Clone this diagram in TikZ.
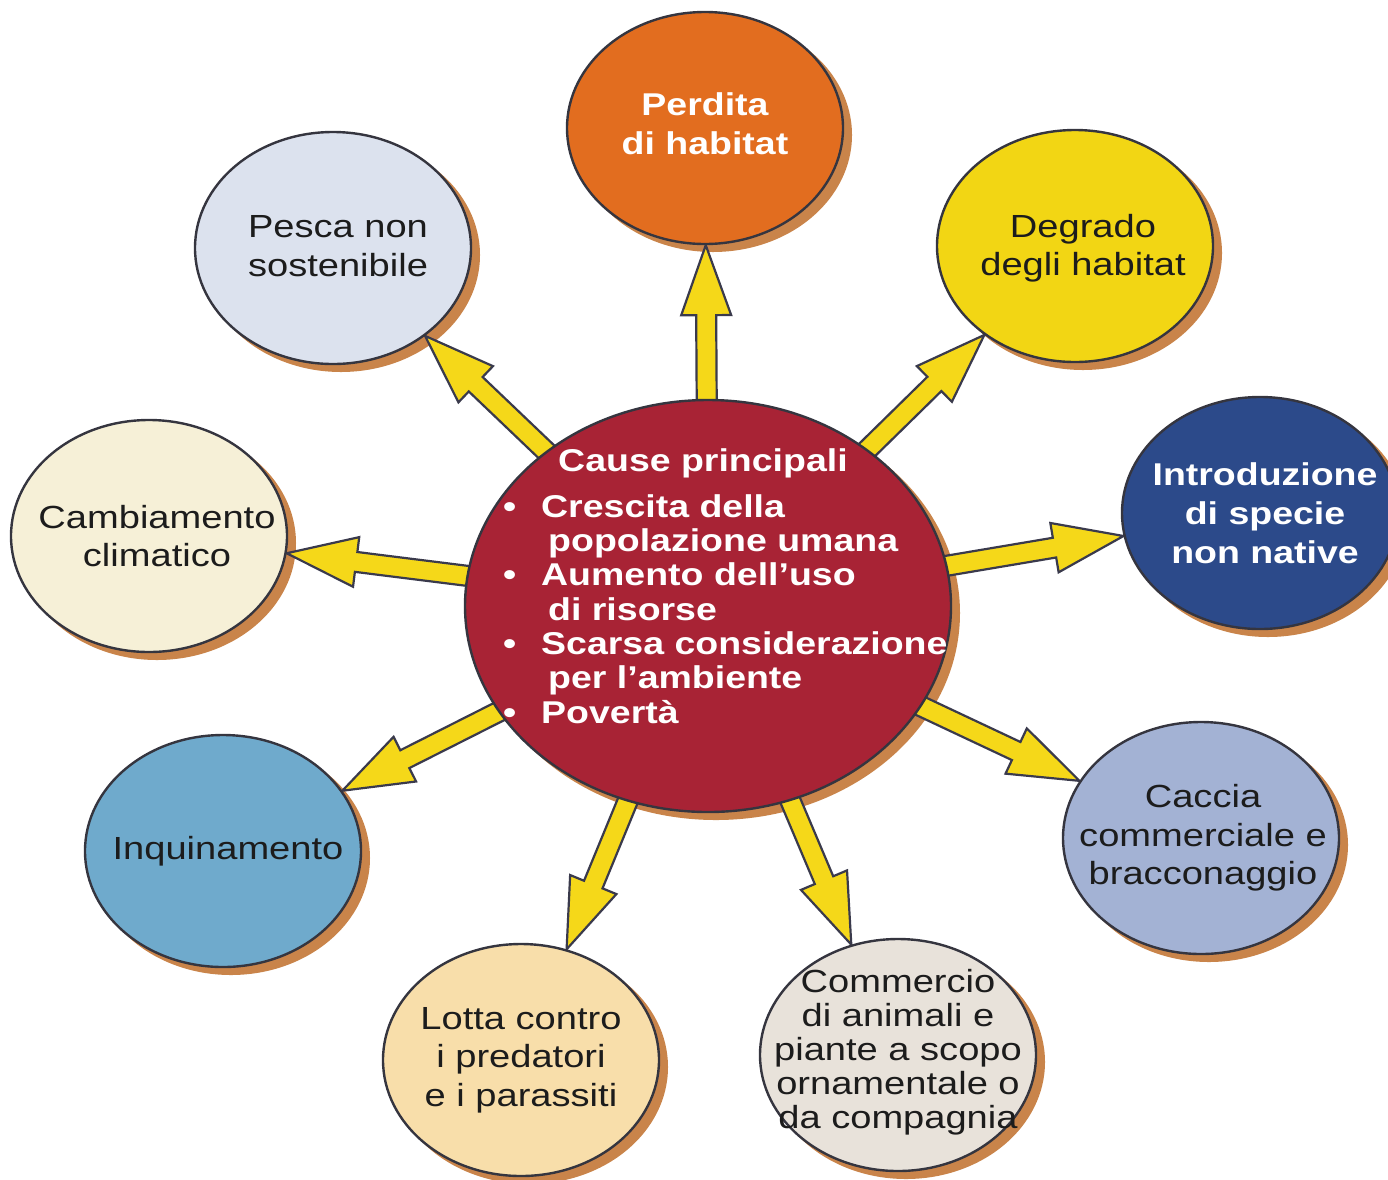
\documentclass[tikz,border=0pt]{standalone}
\usepackage{fontspec}
\setmainfont{Liberation Sans}[FakeStretch=1.19]
\usetikzlibrary{shapes.geometric,calc}

\pgfdeclarelayer{rimlayer}
\pgfdeclarelayer{arrowlayer}
\pgfsetlayers{rimlayer,arrowlayer,main}

\definecolor{outline}{HTML}{35353F}
\definecolor{textdark}{HTML}{1C1C1C}
\definecolor{rimbrown}{HTML}{C9844A}
\definecolor{arrowyellow}{HTML}{F5D819}
\definecolor{arrowline}{HTML}{3A3A4C}
\definecolor{crimson}{HTML}{A82335}
\definecolor{orangefill}{HTML}{E26D1F}
\definecolor{mistblue}{HTML}{DCE2EE}
\definecolor{goldfill}{HTML}{F2D614}
\definecolor{navyfill}{HTML}{2C4A8A}
\definecolor{creamfill}{HTML}{F6F0D7}
\definecolor{skyfill}{HTML}{6FAACC}
\definecolor{peachfill}{HTML}{F8DEAA}
\definecolor{stonefill}{HTML}{E8E2DA}
\definecolor{lavenderfill}{HTML}{A3B2D4}

\tikzset{
  bubble/.style={ellipse, draw=outline, line width=2.4pt,
    minimum width=276pt, minimum height=232pt, inner sep=0pt},
  plaintext/.style={align=center, inner sep=0pt, text=textdark,
    font=\fontsize{32}{38.5}\selectfont},
  boldtext/.style={align=center, inner sep=0pt, text=white,
    font=\bfseries\fontsize{31.5}{39}\selectfont},
  corebubble/.style={ellipse, draw=outline, line width=2.4pt, fill=crimson,
    minimum width=486pt, minimum height=412pt, inner sep=0pt},
  causetext/.style={align=left, inner sep=0pt, text=white,
    font=\bfseries\fontsize{31.5}{34.3}\selectfont},
  fatarrow/.style={fill=arrowyellow, draw=arrowline, line width=2.2pt,
    line join=miter},
  rim/.style={fill=rimbrown},
}

% broad yellow arrow from the border of #1 to the border of #2
\newcommand\causearrow[2]{%
  \path (#1) -- (#2) coordinate[pos=0] (ar-s) coordinate[pos=1] (ar-t);
  \coordinate (ar-b) at ($(ar-s)!-14pt!(ar-t)$);
  \coordinate (ar-h) at ($(ar-t)!70pt!(ar-s)$);
  \draw[fatarrow]
    ($(ar-b)!10pt!90:(ar-t)$) -- ($(ar-h)!10pt!90:(ar-t)$)
    -- ($(ar-h)!25pt!90:(ar-t)$) -- (ar-t)
    -- ($(ar-h)!25pt!-90:(ar-t)$) -- ($(ar-h)!10pt!-90:(ar-t)$)
    -- ($(ar-b)!10pt!-90:(ar-t)$) -- cycle;
}
\newcommand\bul{\makebox[38pt][l]{\textbullet}}

\begin{document}
\begin{tikzpicture}[x=1pt,y=-1pt]
\useasboundingbox (0,0) rectangle (1388,1179);

% central cause bubble
\node[corebubble] (core) at (708,606) {};
\node[causetext, anchor=north west] (causes) at (503,448) {%
  \hspace*{55pt}Cause principali\\[12pt]
  \bul Crescita della\\
  \hspace*{45pt}popolazione umana\\
  \bul Aumento dell’uso\\
  \hspace*{45pt}di risorse\\
  \bul Scarsa considerazione\\
  \hspace*{45pt}per l’ambiente\\
  \bul Povertà};

% surrounding threats
\node[bubble, fill=orangefill,
  label={[boldtext, yshift=4pt]center:Perdita\\di habitat}] (perdita) at (705,128) {};
\node[bubble, fill=mistblue,
  label={[plaintext, xshift=5pt, yshift=2pt]center:Pesca non\\sostenibile}] (pesca) at (333,248) {};
\node[bubble, fill=goldfill,
  label={[plaintext, xshift=8pt, yshift=-2pt]center:Degrado\\degli habitat}] (degrado) at (1075,246) {};
\node[bubble, fill=navyfill,
  label={[boldtext, xshift=5pt]center:Introduzione\\di specie\\non native}] (intro) at (1260,513) {};
\node[bubble, fill=creamfill,
  label={[plaintext, xshift=8pt]center:Cambiamento\\climatico}] (clima) at (149,536) {};
\node[bubble, fill=skyfill,
  label={[plaintext, xshift=5pt]center:Inquinamento}] (inquin) at (223,851) {};
\node[bubble, fill=peachfill,
  label={[plaintext]center:Lotta contro\\i predatori\\e i parassiti}] (lotta) at (521,1060) {};
\node[bubble, fill=stonefill,
  label={[plaintext, font=\fontsize{32}{34}\selectfont, yshift=3pt]center:Commercio\\di animali e\\piante a scopo\\ornamentale o\\da compagnia}] (commercio) at (898,1055) {};
\node[bubble, fill=lavenderfill,
  label={[plaintext, xshift=2pt]center:Caccia\\commerciale e\\bracconaggio}] (caccia) at (1201,838) {};

% offset rims behind every bubble
\begin{pgfonlayer}{rimlayer}
  \fill[rim] ($(core.center)+(8,7)$) ellipse [x radius=244pt, y radius=207pt];
  \foreach \n in {perdita,pesca,degrado,intro,clima,inquin,lotta,commercio,caccia}
    \fill[rim] ($(\n.center)+(8,7)$) ellipse [x radius=139pt, y radius=117pt];
\end{pgfonlayer}

% arrows from the causes to each threat
\begin{pgfonlayer}{arrowlayer}
  \causearrow{core}{perdita}
  \causearrow{core}{degrado}
  \causearrow{core}{intro}
  \causearrow{core}{caccia}
  \causearrow{core}{commercio}
  \causearrow{core}{lotta}
  \causearrow{core}{inquin}
  \causearrow{core}{clima}
  \causearrow{core}{pesca}
\end{pgfonlayer}
\end{tikzpicture}
\end{document}
